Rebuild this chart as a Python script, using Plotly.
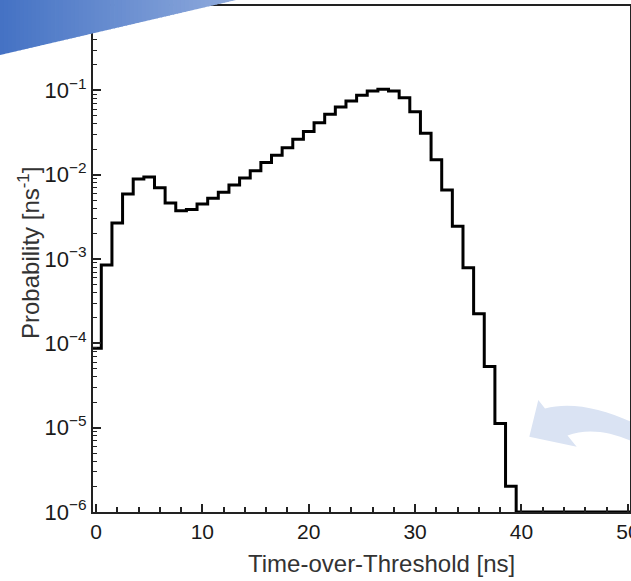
import numpy as np
import plotly.graph_objects as go

# Time-over-Threshold histogram, 1 ns bins centred on integer values
tot_centers = list(range(0, 51))
probability = [
    8.75e-5, 8.5e-4, 2.67e-3, 5.9e-3, 8.9e-3, 9.4e-3, 7.0e-3, 4.6e-3, 3.73e-3, 3.87e-3,
    4.48e-3, 5.25e-3, 6.18e-3, 7.52e-3, 9.1e-3, 1.11e-2, 1.39e-2, 1.70e-2, 2.09e-2, 2.63e-2,
    3.24e-2, 4.14e-2, 5.20e-2, 6.34e-2, 7.47e-2, 8.73e-2, 9.81e-2, 1.028e-1, 9.81e-2, 8.17e-2,
    5.58e-2, 3.10e-2, 1.50e-2, 6.56e-3, 2.44e-3, 7.88e-4, 2.25e-4, 5.31e-5, 1.12e-5, 2.02e-6,
    0, 0, 0, 0, 0, 0, 0, 0, 0, 0, 0,
]
bin_width = 1.0

x_major = [0, 10, 20, 30, 40, 50]
x_minor = [v for v in range(2, 50, 2) if v % 10]
y_exponents = [-6, -5, -4, -3, -2, -1]
y_major = [10.0 ** e for e in y_exponents]
y_labels = ["10<sup>\u2212%d</sup>" % (-e) for e in y_exponents]
y_minor = [k * 10.0 ** e for e in y_exponents for k in range(2, 10)]

Y_FLOOR = 1e-6  # empty bins sit on the bottom of the log axis

W, H = 631, 581
ML, MR, MT, MB = 93, 1, 6, 69
PW, PH = W - ML - MR, H - MT - MB


def px(x, y):
    """pixel position on the page -> paper coordinates"""
    return (x - ML) / PW, (H - MB - y) / PH


# step outline of the histogram
vals = np.maximum(np.array(probability, dtype=float), Y_FLOOR)
edges = [c - bin_width / 2 for c in tot_centers] + [tot_centers[-1] + bin_width / 2]
xs = [edges[0]] + edges
ys = [Y_FLOOR] + list(vals) + [vals[-1]]

fig = go.Figure()
fig.add_trace(go.Scatter(
    x=xs, y=ys, mode="lines", line=dict(color="black", width=3, shape="hv"),
    hoverinfo="skip", showlegend=False,
))

shapes = []

# light blue curved arrow pointing at the tail of the distribution
def pt(x, y):
    a, b = px(x, y)
    return "%.5f,%.5f" % (a, b)

arrow_path = (
    "M " + pt(529.3, 436.7)
    + " L " + pt(538.3, 400.0)
    + " L " + pt(545.0, 408.5)
    + " C " + pt(572, 401) + " " + pt(606, 409) + " " + pt(640, 426)
    + " L " + pt(640, 445)
    + " C " + pt(612, 431) + " " + pt(588, 428) + " " + pt(567.5, 435.5)
    + " L " + pt(576.7, 446.7)
    + " Z"
)
shapes.append(dict(type="path", xref="paper", yref="paper", path=arrow_path,
                   fillcolor="#DAE3F3", line=dict(width=0), layer="below"))

# blue corner banner with a horizontal colour gradient
c0 = np.array([68, 114, 196])
c1 = np.array([143, 170, 220])
tri_w, tri_h = 236.0, 55.0
n = 60
for i in range(n):
    xa = tri_w * i / n
    xb = min(tri_w * (i + 1) / n + 0.8, tri_w)
    ya = tri_h * (1 - xa / tri_w)
    yb = tri_h * (1 - xb / tri_w)
    t = (i + 0.5) / n
    col = c0 + (c1 - c0) * t
    path = ("M " + pt(xa - 0.01, -2) + " L " + pt(xb, -2) + " L " + pt(xb, yb)
            + " L " + pt(xa - 0.01, ya) + " Z")
    shapes.append(dict(type="path", xref="paper", yref="paper", path=path,
                       fillcolor="rgb(%d,%d,%d)" % tuple(col.round()),
                       line=dict(width=0), layer="above"))

tick_font = dict(family="Liberation Sans, Arial, sans-serif", size=21, color="#1a1a1a")
ytick_font = dict(family="Liberation Sans, Arial, sans-serif", size=22, color="#1a1a1a")
title_font = dict(family="Liberation Sans, Arial, sans-serif", size=24, color="#333333")

xt, yt = px(381, 563)
xy, yy = px(29, 253)
annotations = [
    dict(text="Time-over-Threshold [ns]", xref="paper", yref="paper", x=xt, y=yt,
         xanchor="center", yanchor="middle", showarrow=False, font=title_font),
    dict(text="Probability [ns<sup>-1</sup>]", xref="paper", yref="paper", x=xy, y=yy,
         xanchor="center", yanchor="middle", showarrow=False, textangle=-90, font=title_font),
]

fig.update_layout(
    width=W, height=H,
    margin=dict(l=ML, r=MR, t=MT, b=MB, pad=0, autoexpand=False),
    paper_bgcolor="white", plot_bgcolor="white",
    shapes=shapes, annotations=annotations,
    showlegend=False,
)
fig.update_xaxes(
    range=[-0.28, 50.2], showgrid=False, zeroline=False, automargin=False,
    showline=True, linecolor="#222222", linewidth=2, mirror=True,
    tickmode="array", tickvals=x_major, ticks="inside", ticklen=8, tickwidth=1.5,
    tickcolor="#222222", tickfont=tick_font, ticklabeloverflow="allow",
    minor=dict(tickmode="array", tickvals=x_minor, ticks="inside", ticklen=5,
               tickwidth=1.5, tickcolor="#222222", showgrid=False),
)
fig.update_yaxes(
    type="log", range=[-6, 0], showgrid=False, zeroline=False, automargin=False,
    showline=True, linecolor="#222222", linewidth=2, mirror=True,
    tickmode="array", tickvals=y_major, ticktext=y_labels, ticks="inside",
    ticklen=8, tickwidth=1.5, tickcolor="#222222", tickfont=ytick_font,
    ticklabeloverflow="allow",
    minor=dict(tickmode="array", tickvals=y_minor, ticks="inside", ticklen=4,
               tickwidth=1.2, tickcolor="#222222", showgrid=False),
)

fig.write_html("out.html")
